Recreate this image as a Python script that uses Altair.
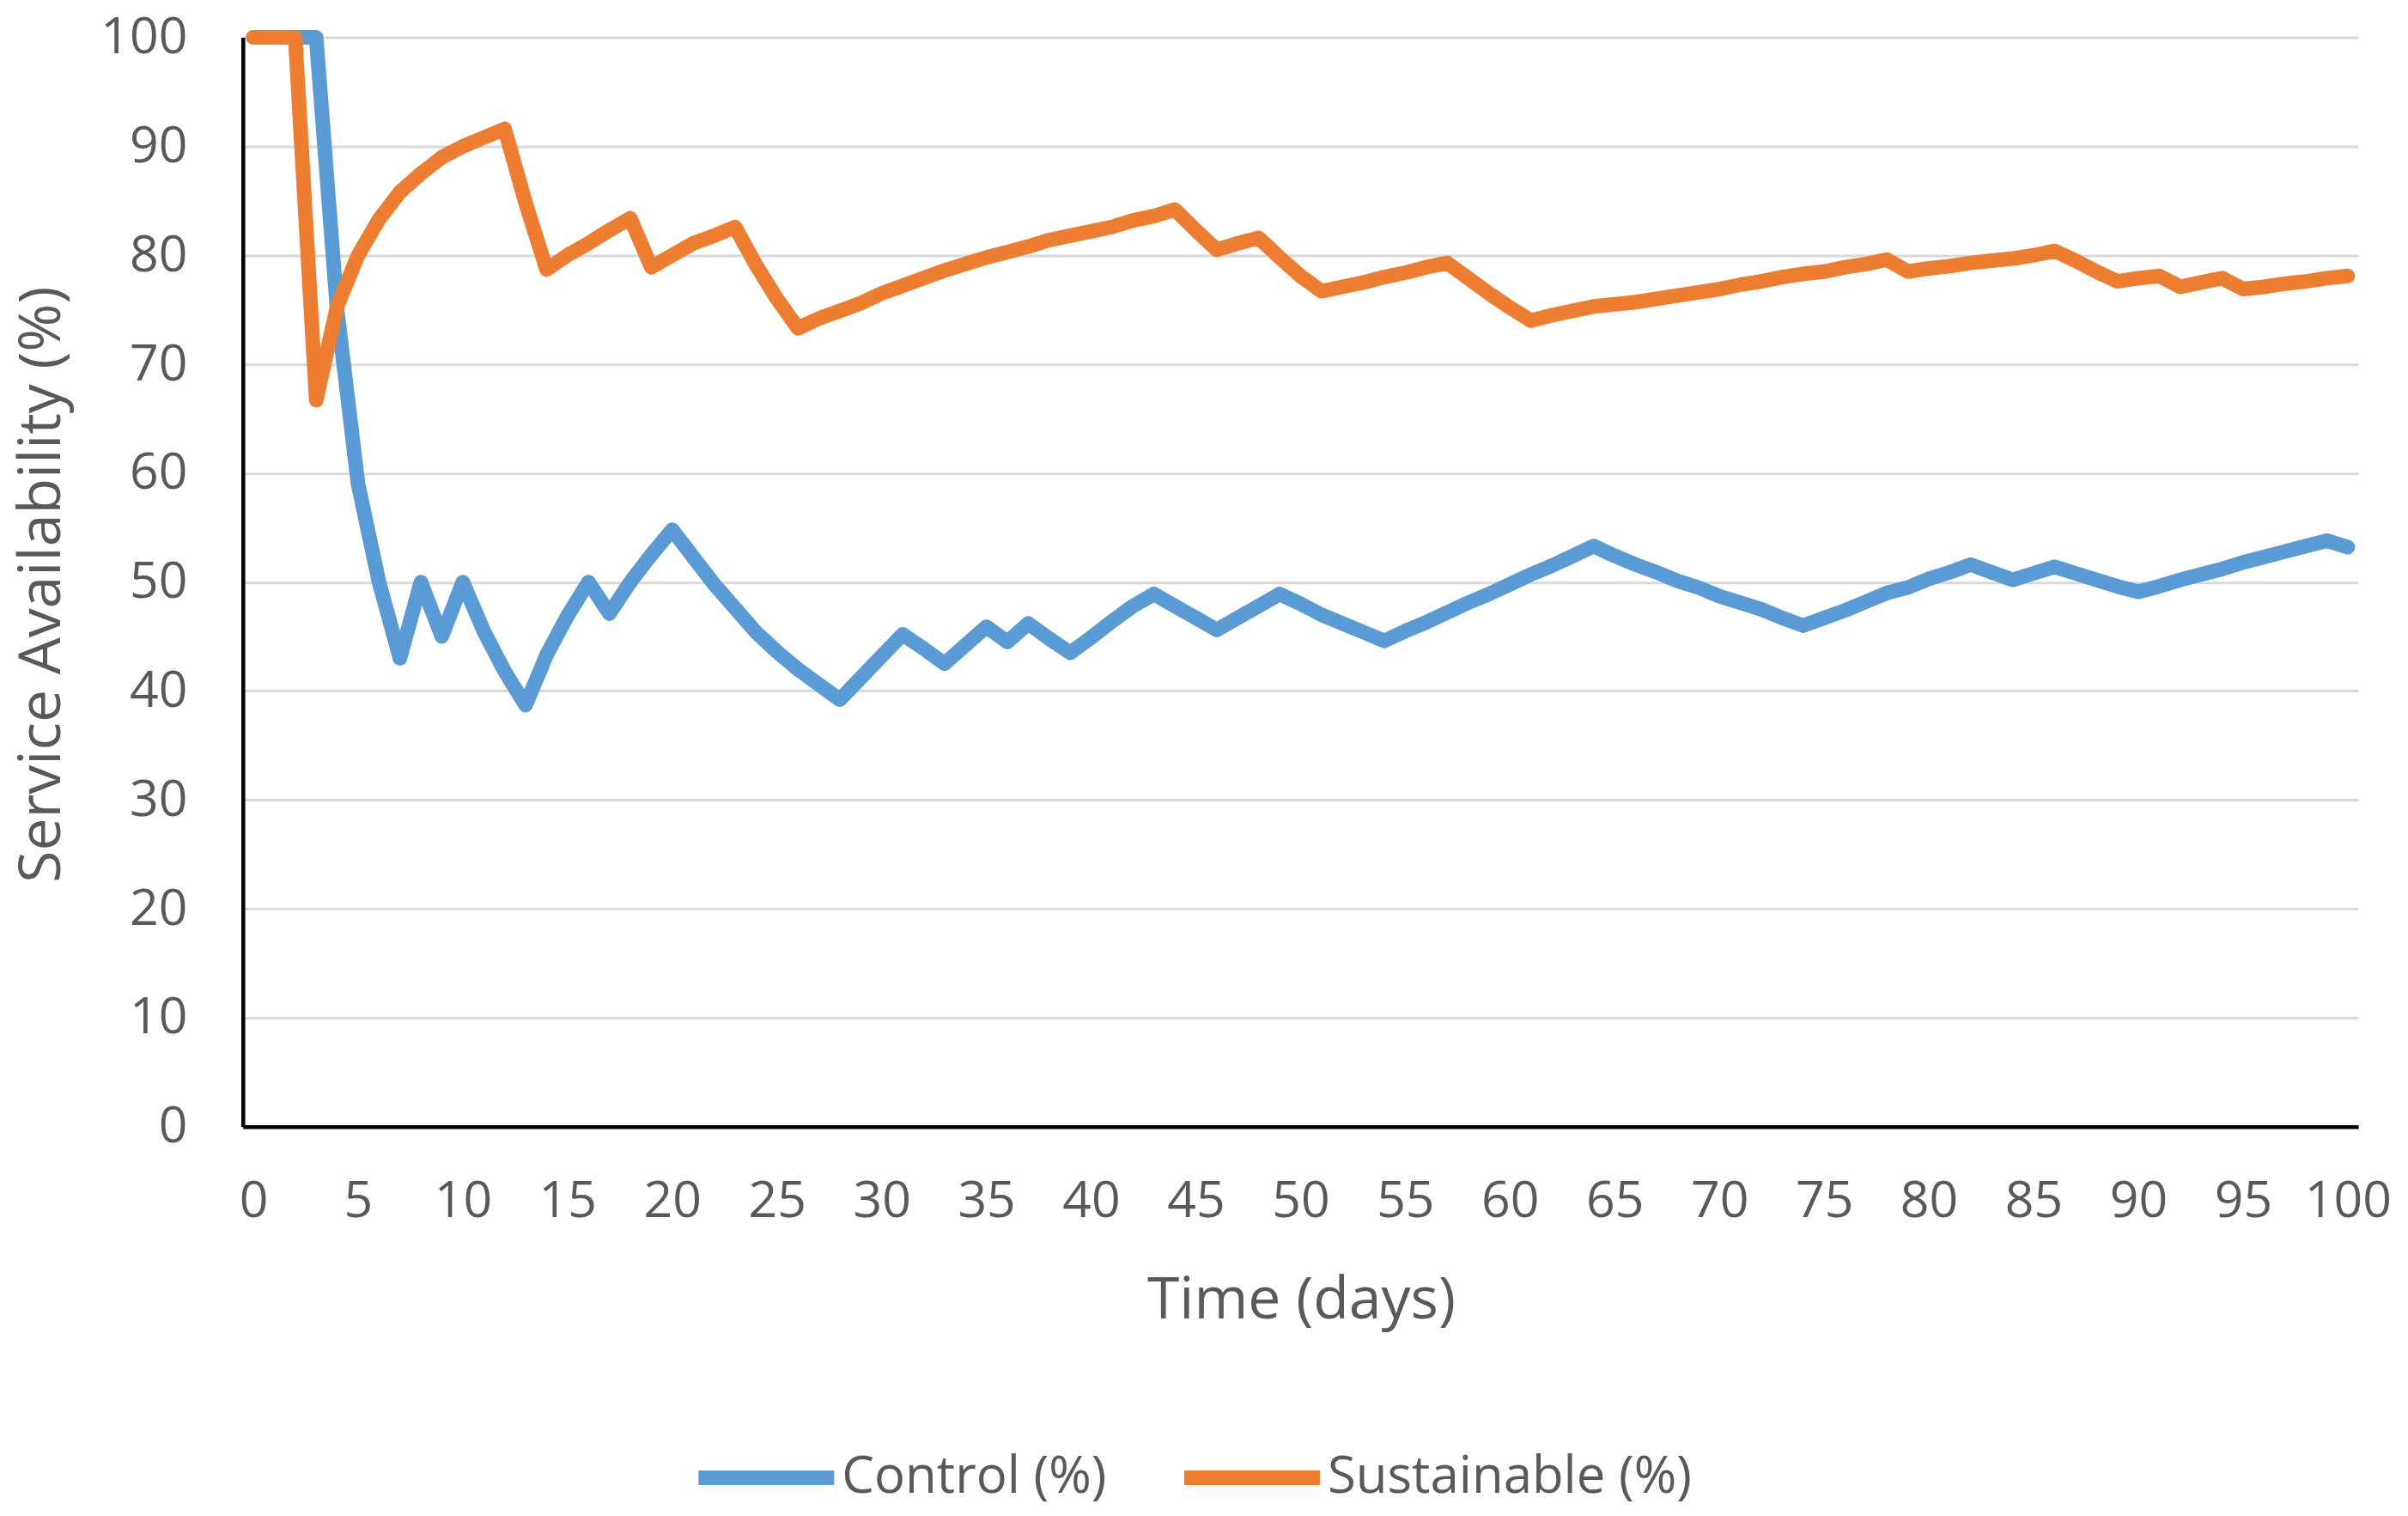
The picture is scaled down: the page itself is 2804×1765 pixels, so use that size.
import altair as alt
import pandas as pd

days = list(range(0, 101))

control = [
    100, 100, 100, 100, 75, 59, 50, 43, 50, 45,
    50, 45.5, 41.8, 38.7, 43.3, 46.9, 50, 47.1, 50, 52.5,
    54.8, 52.3, 49.8, 47.6, 45.4, 43.6, 42.0, 40.6, 39.2, 41.2,
    43.2, 45.2, 43.9, 42.5, 44.2, 45.9, 44.5, 46.2, 44.8, 43.5,
    44.9, 46.4, 47.8, 48.9, 47.8, 46.7, 45.6, 46.7, 47.8, 48.9,
    48.0, 47.0, 46.2, 45.4, 44.6, 45.5, 46.3, 47.2, 48.1, 48.9,
    49.8, 50.7, 51.5, 52.4, 53.3, 52.4, 51.6, 50.9, 50.1, 49.5,
    48.7, 48.1, 47.5, 46.7, 46.0, 46.7, 47.4, 48.2, 49.0, 49.5,
    50.3, 50.9, 51.6, 50.9, 50.2, 50.8, 51.4, 50.8, 50.2, 49.6,
    49.1, 49.6, 50.2, 50.7, 51.2, 51.8, 52.3, 52.8, 53.3, 53.8,
    53.2,
]

sustainable = [
    100, 100, 100, 66.7, 75.3, 80, 83.3, 85.8, 87.5, 89,
    90, 90.8, 91.6, 84.8, 78.7, 80, 81.1, 82.3, 83.4, 78.9,
    80, 81.1, 81.8, 82.6, 79.1, 76, 73.3, 74.2, 74.9, 75.6,
    76.5, 77.2, 77.9, 78.6, 79.2, 79.8, 80.3, 80.8, 81.4, 81.8,
    82.2, 82.6, 83.2, 83.6, 84.2, 82.3, 80.5, 81.1, 81.6, 79.8,
    78.1, 76.7, 77.1, 77.5, 78.0, 78.4, 78.9, 79.3, 77.9, 76.5,
    75.2, 74.0, 74.5, 74.9, 75.3, 75.5, 75.7, 76.0, 76.3, 76.6,
    76.9, 77.3, 77.6, 78.0, 78.3, 78.5, 78.9, 79.2, 79.6, 78.5,
    78.8, 79.0, 79.3, 79.5, 79.7, 80.0, 80.4, 79.5, 78.5, 77.6,
    77.9, 78.1, 77.1, 77.5, 77.9, 76.9, 77.1, 77.4, 77.6, 77.9,
    78.1,
]

series_names = ["Control (%)", "Sustainable (%)"]
series_colors = ["#5B9BD5", "#ED7D31"]
x_ticks = list(range(0, 101, 5))
y_ticks = list(range(0, 101, 10))

rows = []
for name, vals in zip(series_names, [control, sustainable]):
    for d, v in zip(days, vals):
        rows.append({"day": d, "value": v, "series": name})
df = pd.DataFrame(rows)

FONT = "Open Sans"
GRAY = "#595959"

chart = (
    alt.Chart(df)
    .mark_line(strokeWidth=17, strokeCap="round", strokeJoin="round")
    .encode(
        x=alt.X(
            "day:Q",
            scale=alt.Scale(domain=[-0.5, 100.5], nice=False, zero=False),
            axis=alt.Axis(
                title="Time (days)",
                values=x_ticks,
                grid=False,
                ticks=False,
                domainColor="black",
                domainWidth=4.5,
                labelFont=FONT,
                labelFontSize=59,
                labelColor=GRAY,
                labelPadding=58,
                labelFlush=False,
                titleFont=FONT,
                titleFontSize=68,
                titleFontWeight="normal",
                titleColor=GRAY,
                titleX=1233,
                titleY=203,
                titleAlign="center",
                titleBaseline="middle",
            ),
        ),
        y=alt.Y(
            "value:Q",
            scale=alt.Scale(domain=[0, 100], nice=False),
            axis=alt.Axis(
                title="Service Availability (%)",
                values=y_ticks,
                grid=True,
                gridColor="#D9D9D9",
                gridWidth=3,
                ticks=False,
                domainColor="black",
                domainWidth=4.5,
                labelFont=FONT,
                labelFontSize=59,
                labelColor=GRAY,
                labelPadding=65,
                labelFlush=False,
                titleFont=FONT,
                titleFontSize=68,
                titleFontWeight="normal",
                titleColor=GRAY,
                titleAngle=270,
                titleX=-233,
                titleY=637,
                titleAlign="center",
                titleBaseline="middle",
            ),
        ),
        color=alt.Color(
            "series:N",
            scale=alt.Scale(domain=series_names, range=series_colors),
            legend=alt.Legend(
                title=None,
                orient="none",
                direction="horizontal",
                legendX=522,
                legendY=1590,
                symbolType="stroke",
                symbolStrokeWidth=17,
                symbolSize=25000,
                labelFont=FONT,
                labelFontSize=60,
                labelColor=GRAY,
                labelLimit=0,
                labelOffset=0,
                columnPadding=55,
            ),
        ),
    )
    .properties(
        width=2465,
        height=1269,
        padding={"left": 275, "top": 35, "right": 50, "bottom": 450},
        autosize=alt.AutoSizeParams(type="none"),
    )
    .configure_view(stroke=None)
)

chart.save("out.html", embed_options={"renderer": "svg", "actions": False})
